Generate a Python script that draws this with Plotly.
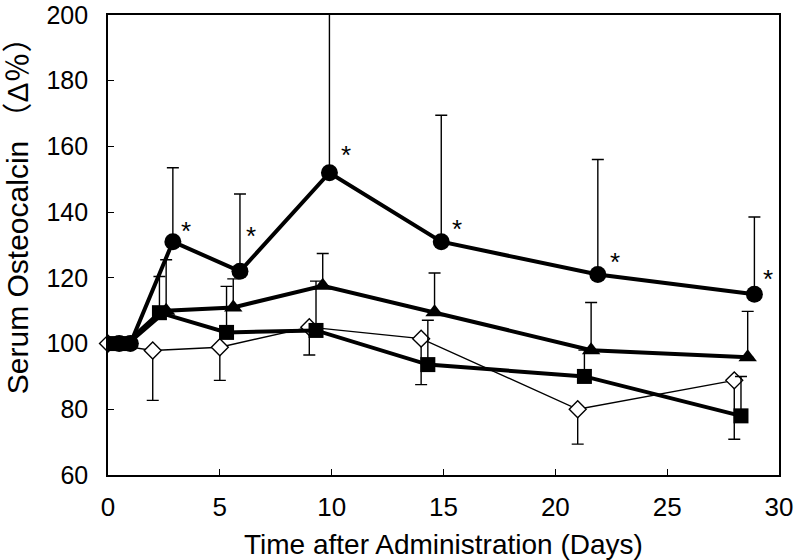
import plotly.graph_objects as go

# ---- data ----
circ_x = [0.5, 1.0, 2.9, 5.9, 9.9, 14.9, 21.9, 28.9]
circ_y = [100, 100, 131, 122, 152, 131, 121, 115]
circ_err = [0, 0, 22.5, 23.5, 48.5, 38.5, 35, 23.5]

tri_x = [0.4, 0.9, 2.6, 5.6, 9.6, 14.6, 21.6, 28.6]
tri_y = [100, 100, 110, 111, 117.6, 109.5, 98, 95.8]
tri_err = [0, 0, 15.5, 8.7, 9.8, 12, 14.5, 14]

sq_x = [0.3, 0.8, 2.3, 5.3, 9.3, 14.3, 21.3, 28.3]
sq_y = [100, 100, 109.4, 103.4, 104, 93.6, 90, 78]
sq_err = [0, 0, 11, 14, 15, 13.5, 8, 12]

dia_x = [0, 2.0, 5.0, 9.0, 14.0, 21.0, 28.0]
dia_y = [100, 97.9, 98.9, 105, 101.5, 80, 88.8]
dia_err = [0, 15.2, 10.1, 8.5, 14, 10.6, 17.9]

# significance marks sit next to the circle points from day 3 onward
star_x = circ_x[2:]
star_y = circ_y[2:]

x_ticks = [0, 5, 10, 15, 20, 25, 30]
y_ticks = [60, 80, 100, 120, 140, 160, 180, 200]

x_title = "Time after Administration (Days)"
y_title = "Serum Osteocalcin （Δ％）"

# pixel offsets for the asterisks (style)
star_xshift = [13, 11, 17, 16, 17, 14]
star_yshift = [11, 35, 18, 13, 13, 15]

FONT = "Liberation Sans, Arial, Noto Sans CJK JP"

fig = go.Figure()

def err(vals, up=True):
    return dict(type="data", symmetric=False,
                array=vals if up else [0]*len(vals),
                arrayminus=[0]*len(vals) if up else vals,
                color="black", thickness=1.4, width=6)

fig.add_trace(go.Scatter(x=dia_x, y=dia_y, mode="lines+markers",
                         line=dict(color="black", width=1.4),
                         marker=dict(symbol="diamond", size=13, color="white",
                                     line=dict(color="black", width=1.4)),
                         error_y=err(dia_err, up=False), cliponaxis=False))
fig.add_trace(go.Scatter(x=sq_x, y=sq_y, mode="lines+markers",
                         line=dict(color="black", width=4),
                         marker=dict(symbol="square", size=15, color="black"),
                         error_y=err(sq_err)))
fig.add_trace(go.Scatter(x=tri_x, y=tri_y, mode="lines+markers",
                         line=dict(color="black", width=4),
                         marker=dict(symbol="triangle-up", size=16, color="black"),
                         error_y=err(tri_err)))
fig.add_trace(go.Scatter(x=circ_x, y=circ_y, mode="lines+markers",
                         line=dict(color="black", width=4),
                         marker=dict(symbol="circle", size=17, color="black"),
                         error_y=err(circ_err)))

for sx, sy, dx, dy in zip(star_x, star_y, star_xshift, star_yshift):
    fig.add_annotation(x=sx, y=sy, text="*", showarrow=False,
                       xshift=dx, yshift=dy,
                       font=dict(size=26, color="black", family=FONT))

# axis titles
fig.add_annotation(xref="paper", yref="paper", x=0.5, y=0, text=x_title,
                   showarrow=False, xanchor="center", yanchor="middle", yshift=-69,
                   font=dict(size=28, color="black", family=FONT))
fig.add_annotation(xref="paper", yref="paper", x=0, y=0.58, text=y_title,
                   textangle=-90, showarrow=False, xanchor="center", yanchor="middle",
                   xshift=-91, font=dict(size=30, color="black", family=FONT))

fig.update_layout(
    width=796, height=560,
    margin=dict(l=108, r=17, t=15, b=85, autoexpand=False),
    paper_bgcolor="white", plot_bgcolor="white",
    showlegend=False,
    font=dict(family=FONT, color="black", size=25),
)
fig.update_xaxes(range=[0, 30], tickvals=x_ticks, ticks="inside", ticklen=6,
                 tickcolor="black", showline=True, linecolor="black", linewidth=1.6,
                 mirror=True, showgrid=False, zeroline=False, automargin=False,
                 tickfont=dict(size=26, family=FONT), ticklabelstandoff=8,
                 ticklabeloverflow="allow")
fig.update_yaxes(range=[60, 200], tickvals=y_ticks, ticks="inside", ticklen=6,
                 tickcolor="black", showline=True, linecolor="black", linewidth=1.6,
                 mirror=True, showgrid=False, zeroline=False, automargin=False,
                 tickfont=dict(size=25, family=FONT), ticklabelstandoff=13,
                 ticklabeloverflow="allow")

fig.write_html("out.html", config={"displayModeBar": False},
               post_script="document.body.style.margin='0';")
